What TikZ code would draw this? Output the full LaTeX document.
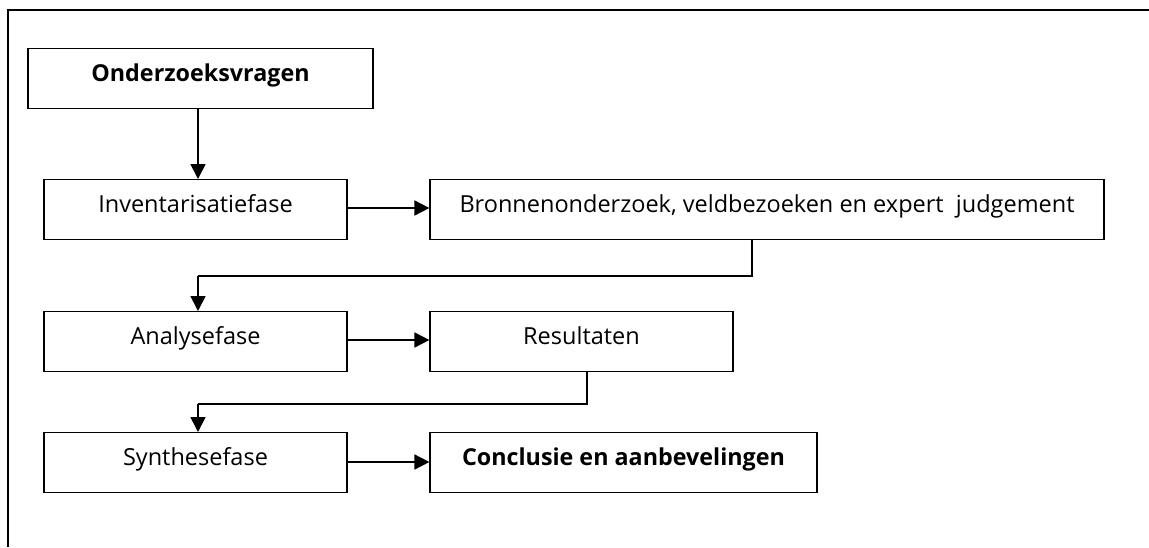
\documentclass[tikz,border=0pt]{standalone}
\usepackage{fontspec}
\setmainfont{Open Sans}
\usetikzlibrary{arrows.meta}
\begin{document}
\begin{tikzpicture}[x=1pt,y=-1pt,
  box/.style={draw,line width=1.2pt,inner sep=0pt,text height=33pt,text depth=27pt,
    font=\fontsize{23.5}{28}\selectfont},
  boldbox/.style={box,font=\fontsize{23.3}{28}\selectfont\bfseries},
  arr/.style={line width=1.7pt,-{Triangle[length=15pt,width=15pt]}},
  conn/.style={line width=1.3pt}]
\useasboundingbox (0,0) rectangle (1149,547);
\draw[line width=2pt] (8,547) -- (8,10) -- (1149,10);
\node[boldbox,minimum width=345pt] (q) at (200.5,48) [anchor=north] {Onderzoeksvragen};
\node[box,minimum width=303pt] (inv) at (195.5,179) [anchor=north] {Inventarisatiefase};
\node[box,minimum width=674pt] (bron) at (767,179) [anchor=north] {Bronnenonderzoek, veldbezoeken en expert\ \ judgement};
\node[box,minimum width=303pt] (ana) at (195.5,311) [anchor=north] {Analysefase};
\node[box,minimum width=303pt] (res) at (581.5,311) [anchor=north] {Resultaten};
\node[box,minimum width=303pt] (syn) at (195.5,432) [anchor=north] {Synthesefase};
\node[boldbox,minimum width=387pt] (con) at (623.5,432) [anchor=north] {Conclusie en aanbevelingen};
\draw[arr] (q.south -| 198,0) -- (inv.north -| 198,0);
\draw[arr] (inv.east |- 0,208) -- (bron.west |- 0,208);
\draw[conn] (bron.south -| 752,0) -- (752,276) -- (198,276);
\draw[arr] (198,276) -- (ana.north -| 198,0);
\draw[arr] (ana.east |- 0,340) -- (res.west |- 0,340);
\draw[conn] (res.south -| 587,0) -- (587,404) -- (198,404);
\draw[arr] (198,404) -- (syn.north -| 198,0);
\draw[arr] (syn.east |- 0,462) -- (con.west |- 0,462);
\end{tikzpicture}
\end{document}
